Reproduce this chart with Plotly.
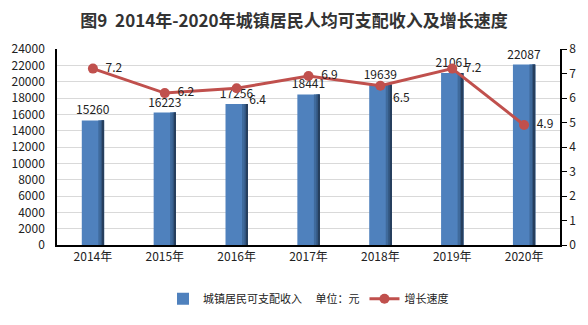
import plotly.graph_objects as go

years = ["2014年", "2015年", "2016年", "2017年", "2018年", "2019年", "2020年"]
income = [15260, 16223, 17256, 18441, 19639, 21061, 22087]
growth = [7.2, 6.2, 6.4, 6.9, 6.5, 7.2, 4.9]
growth_label_pos = ["middle right", "middle right", "bottom right", "middle right",
                    "bottom right", "middle right", "middle right"]
left_ticks = list(range(0, 24001, 2000))
right_ticks = list(range(0, 9))

FONT = "Noto Sans CJK SC, DejaVu Sans, sans-serif"
BAR_W = 0.31

fig = go.Figure()

# main bar body
fig.add_trace(go.Bar(
    x=years, y=income, width=BAR_W,
    marker=dict(color="#4F81BD", line=dict(width=0)),
    name="城镇居民可支配收入　 单位：元",
    text=[str(v) for v in income], textposition="outside",
    constraintext="none",
    textfont=dict(family=FONT, size=12, color="#222"),
    cliponaxis=False,
))
# darker shading strips along the right edge of each bar
fig.add_trace(go.Bar(
    x=years, y=income, width=0.08, offset=BAR_W / 2 - 0.08,
    marker=dict(color="#3f6a9c", line=dict(width=0)),
    showlegend=False, hoverinfo="skip",
))
fig.add_trace(go.Bar(
    x=years, y=income, width=0.045, offset=BAR_W / 2 - 0.045,
    marker=dict(color="#32557f", line=dict(width=0)),
    showlegend=False, hoverinfo="skip",
))
fig.add_trace(go.Bar(
    x=years, y=income, width=0.02, offset=BAR_W / 2 - 0.02,
    marker=dict(color="#263f5e", line=dict(width=0)),
    showlegend=False, hoverinfo="skip",
))

fig.add_trace(go.Scatter(
    x=years, y=growth, yaxis="y2", mode="lines+markers+text",
    name="增长速度",
    line=dict(color="#C0504D", width=3),
    marker=dict(color="#C0504D", size=10),
    text=["  " + f"{v}" for v in growth], textposition=growth_label_pos,
    textfont=dict(family=FONT, size=12, color="#222"),
    cliponaxis=False,
))

fig.update_layout(
    width=588, height=325,
    margin=dict(l=47, r=23, t=49, b=58),
    paper_bgcolor="white", plot_bgcolor="white",
    barmode="overlay",
    title=dict(
        text="<b>图9  2014年-2020年城镇居民人均可支配收入及增长速度</b>",
        x=0.5, xanchor="center", y=0.935, yanchor="middle",
        font=dict(family=FONT, size=17, color="#333"),
    ),
    font=dict(family=FONT, size=12, color="#222"),
    xaxis=dict(
        showline=True, linecolor="#000", linewidth=1.5,
        ticks="", showgrid=False, tickfont=dict(size=12),
    ),
    yaxis=dict(
        range=[0, 24000], tickvals=left_ticks, tickformat="d",
        showline=True, linecolor="#000", linewidth=1.5,
        gridcolor="#d9d9d9", gridwidth=1, zeroline=False,
        ticks="", ticklabelstandoff=8, tickfont=dict(size=12),
    ),
    yaxis2=dict(
        overlaying="y", side="right", range=[0, 8], tickvals=right_ticks,
        showline=True, linecolor="#000", linewidth=1.5,
        showgrid=False, zeroline=False,
        ticks="outside", ticklen=5, tickcolor="#000",
        tickfont=dict(size=12),
    ),
    legend=dict(
        orientation="h", x=0.5, xanchor="center", y=-0.2, yanchor="top",
        font=dict(family=FONT, size=11, color="#222"),
        itemwidth=30,
    ),
)

fig.write_html("out.html")
